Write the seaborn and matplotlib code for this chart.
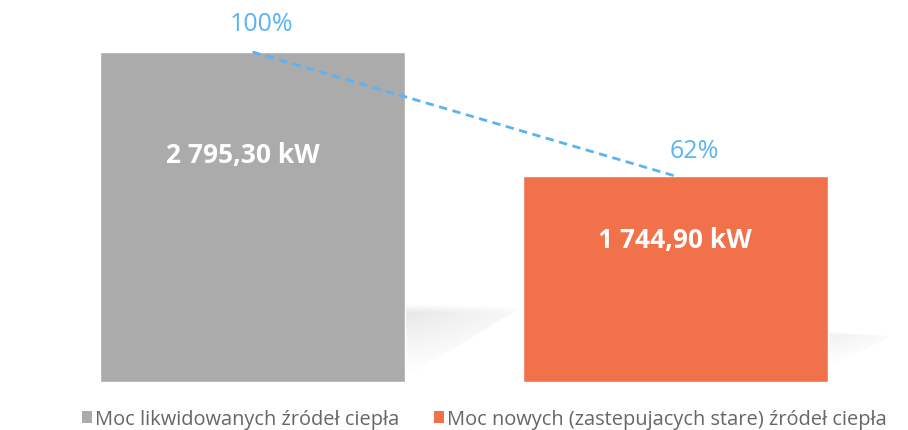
import matplotlib
matplotlib.use("Agg")
import matplotlib.pyplot as plt
import seaborn as sns
import pandas as pd
import numpy as np
from matplotlib.patches import Patch, Polygon

categories = ["Moc likwidowanych źródeł ciepła",
              "Moc nowych (zastepujacych stare) źródeł ciepła"]
values = [2795.30, 1744.90]
value_labels = ["2 795,30 kW", "1 744,90 kW"]
percent_labels = ["100%", "62%"]
colors = ["#ABABAB", "#F0714A"]
line_color = "#5BB4F0"

sns.set_theme(style="white")
plt.rcParams['font.family'] = ['Open Sans', 'DejaVu Sans']

df = pd.DataFrame({"cat": categories, "val": values})

W, H = 908, 431
fig = plt.figure(figsize=(W / 100, H / 100), dpi=100)
ax = fig.add_axes([40 / W, 48 / H, 848 / W, 373 / H])

sns.barplot(data=df, x="cat", y="val", hue="cat", palette=colors,
            width=0.722, saturation=1, legend=False, ax=ax, zorder=3)

ax.set_xlim(-0.503, 1.504)
ax.set_ylim(0, 3159)

# soft perspective shadows to the right of the bars (decoration)
fig.canvas.draw()
def px_to_data(x0, y0, dx, dy):
    X, Y = ax.transData.transform((x0, y0))
    return ax.transData.inverted().transform((X + dx, Y + dy))

shadow_specs = [  # (top px above bottom, reach px, depth px, strength)
    (78, 115, 72, 0.42),
    (50, 64, 34, 0.25),
]
for patch, (top, reach, depth, strength) in zip(ax.patches, shadow_specs):
    x_r = patch.get_x() + patch.get_width()
    p1 = px_to_data(x_r, 0, 0, top)
    p2 = px_to_data(x_r, 0, reach, top - 4)
    p3 = px_to_data(x_r, 0, 3, top - depth)
    poly = Polygon([p1, p2, p3], closed=True, facecolor="none",
                   edgecolor="none", transform=ax.transData)
    ax.add_patch(poly)
    n = 120
    xs = np.linspace(0, 1, n)
    ys = np.linspace(0, 1, n)
    gx, gy = np.meshgrid(xs, ys)
    alpha = (np.clip(1 - gy, 0, 1) ** 1.3) * np.clip(gy * 8, 0, 1) \
        * (1 - 0.75 * gx) * strength
    img = np.zeros((n, n, 4))
    img[..., :3] = 0.74
    img[..., 3] = np.clip(alpha, 0, 1)
    im = ax.imshow(img, extent=[p1[0], p2[0], p3[1], p1[1]], origin="upper",
                   aspect="auto", zorder=1, interpolation="bilinear")
    im.set_clip_path(poly)

# dashed connecting line between bar tops
ax.plot([0, 1], values, linestyle=(0, (3, 2)), color=line_color, lw=2,
        zorder=4)

label_dx = [-10, 0]
pct_off = [(9, 28.5), (19, 25)]
for i, (v, vl, pl) in enumerate(zip(values, value_labels, percent_labels)):
    ax.annotate(vl, xy=(i, v * 0.69), xytext=(label_dx[i] * 0.72, 0),
                textcoords="offset points", ha="center", va="center",
                color="white", fontsize=19, fontweight="bold", zorder=5)
    ax.annotate(pl, xy=(i, v),
                xytext=(pct_off[i][0] * 0.72, pct_off[i][1] * 0.72),
                textcoords="offset points", ha="center", va="center",
                color=line_color, fontsize=18, zorder=5)

ax.set_xlabel("")
ax.set_ylabel("")
ax.set_xticks([])
ax.set_yticks([])
for s in ax.spines.values():
    s.set_visible(False)

handles = [Patch(facecolor=c, edgecolor="none") for c in colors]
fig.legend(handles, categories, loc="center", bbox_to_anchor=(484 / W, 11 / H),
           ncol=2, frameon=False, fontsize=14.4, handlelength=0.5,
           handleheight=0.5, handletextpad=0.15, columnspacing=1.75,
           labelcolor="#666666", borderpad=0)

fig.savefig("out.png", dpi=100)
